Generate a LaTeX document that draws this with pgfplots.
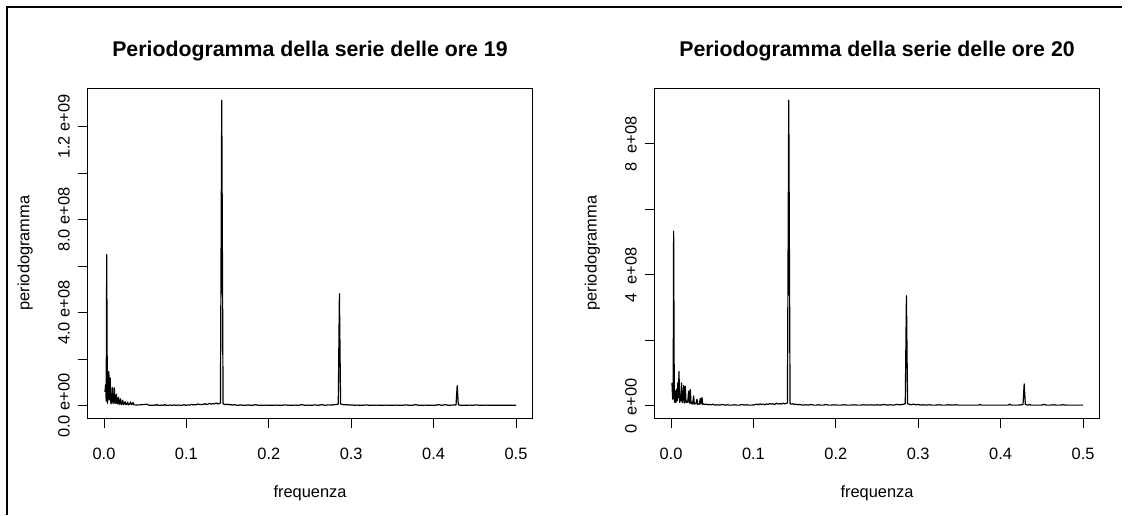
\documentclass[border=0pt]{standalone}
\usepackage{fontspec}
\setmainfont{Liberation Sans}
\usepackage{pgfplots}
\usepackage{pgfplotstable}
\pgfplotsset{compat=1.18}

% periodogram ordinates, in units of 1e8
\pgfplotstableread{
f v
0.0012 0.6
0.0020 0.9
0.0027 0.2
0.0033 6.5
0.0041 0.1
0.0050 0.35
0.0059 1.47
0.0066 0.25
0.0075 1.2
0.0084 0.08
0.0093 0.2
0.0102 0.78
0.0110 0.1
0.0118 0.2
0.0126 0.77
0.0134 0.1
0.0142 0.15
0.0151 0.5
0.0159 0.08
0.0167 0.12
0.0176 0.37
0.0184 0.06
0.0192 0.1
0.0201 0.3
0.0209 0.05
0.0218 0.09
0.0227 0.24
0.0236 0.05
0.0245 0.08
0.0256 0.18
0.0266 0.05
0.0276 0.06
0.0288 0.15
0.0298 0.04
0.0310 0.06
0.0322 0.16
0.0332 0.05
0.0342 0.07
0.0353 0.14
0.0363 0.04
0.0380 0.04
0.0400 0.03
0.0420 0.04
0.0440 0.04
0.0460 0.05
0.0480 0.05
0.0500 0.06
0.0520 0.07
0.0540 0.03
0.0560 0.02
0.0580 0.02
0.0600 0.03
0.0620 0.02
0.0640 0.06
0.0650 0.02
0.0680 0.02
0.0700 0.03
0.0720 0.02
0.0740 0.05
0.0750 0.02
0.0780 0.02
0.0800 0.03
0.0830 0.02
0.0850 0.04
0.0870 0.02
0.0900 0.03
0.0930 0.02
0.0950 0.02
0.0970 0.05
0.0990 0.02
0.1010 0.03
0.1040 0.03
0.1060 0.06
0.1080 0.04
0.1100 0.05
0.1120 0.04
0.1140 0.08
0.1160 0.05
0.1180 0.06
0.1200 0.05
0.1220 0.09
0.1240 0.06
0.1260 0.07
0.1280 0.10
0.1300 0.07
0.1320 0.09
0.1340 0.08
0.1360 0.12
0.1380 0.08
0.1400 0.10
0.1413 0.12
0.1429 13.14
0.1445 0.10
0.1460 0.06
0.1480 0.05
0.1500 0.07
0.1520 0.04
0.1540 0.05
0.1560 0.03
0.1580 0.05
0.1600 0.03
0.1630 0.02
0.1660 0.04
0.1690 0.02
0.1720 0.02
0.1750 0.04
0.1780 0.02
0.1810 0.02
0.1840 0.05
0.1870 0.02
0.1900 0.02
0.1930 0.02
0.1960 0.03
0.2000 0.02
0.2040 0.02
0.2080 0.03
0.2120 0.02
0.2160 0.02
0.2200 0.04
0.2240 0.02
0.2280 0.02
0.2320 0.03
0.2360 0.02
0.2400 0.05
0.2440 0.02
0.2480 0.03
0.2520 0.02
0.2560 0.04
0.2600 0.02
0.2640 0.05
0.2680 0.02
0.2720 0.04
0.2760 0.03
0.2800 0.05
0.2830 0.06
0.2843 0.08
0.2857 4.82
0.2871 0.08
0.2890 0.06
0.2920 0.04
0.2950 0.05
0.2980 0.03
0.3010 0.04
0.3040 0.02
0.3070 0.03
0.3100 0.02
0.3140 0.02
0.3180 0.04
0.3220 0.02
0.3260 0.02
0.3300 0.03
0.3340 0.02
0.3380 0.02
0.3420 0.03
0.3460 0.02
0.3500 0.02
0.3540 0.03
0.3580 0.02
0.3620 0.02
0.3660 0.04
0.3700 0.02
0.3740 0.02
0.3780 0.05
0.3820 0.02
0.3860 0.02
0.3900 0.03
0.3940 0.02
0.3980 0.02
0.4020 0.02
0.4060 0.05
0.4100 0.02
0.4140 0.05
0.4180 0.02
0.4220 0.03
0.4260 0.03
0.4272 0.04
0.4286 0.86
0.4300 0.04
0.4330 0.02
0.4360 0.02
0.4400 0.02
0.4440 0.03
0.4480 0.02
0.4520 0.04
0.4560 0.02
0.4600 0.02
0.4640 0.03
0.4680 0.02
0.4720 0.02
0.4760 0.02
0.4800 0.02
0.4840 0.02
0.4880 0.02
0.4920 0.02
0.4960 0.02
0.5000 0.02
}\oretdiciannove

\pgfplotstableread{
f v
0.0012 0.7
0.0020 0.2
0.0027 0.5
0.0032 5.33
0.0040 0.2
0.0046 0.1
0.0052 0.45
0.0060 0.1
0.0067 0.5
0.0075 0.15
0.0082 0.7
0.0090 0.25
0.0097 1.05
0.0105 0.1
0.0113 0.3
0.0120 0.15
0.0127 0.7
0.0136 0.1
0.0145 0.2
0.0153 0.62
0.0162 0.08
0.0173 0.6
0.0183 0.1
0.0194 0.15
0.0203 0.1
0.0214 0.45
0.0224 0.08
0.0234 0.5
0.0244 0.06
0.0254 0.1
0.0264 0.05
0.0274 0.3
0.0284 0.05
0.0295 0.08
0.0305 0.06
0.0315 0.2
0.0325 0.04
0.0335 0.06
0.0345 0.05
0.0355 0.22
0.0365 0.05
0.0376 0.25
0.0386 0.04
0.0395 0.06
0.0410 0.04
0.0430 0.05
0.0450 0.03
0.0470 0.04
0.0490 0.03
0.0510 0.05
0.0530 0.02
0.0560 0.03
0.0590 0.02
0.0620 0.04
0.0650 0.02
0.0680 0.03
0.0710 0.02
0.0740 0.02
0.0770 0.03
0.0800 0.02
0.0830 0.02
0.0860 0.04
0.0890 0.02
0.0920 0.03
0.0950 0.02
0.0980 0.02
0.1010 0.03
0.1040 0.05
0.1060 0.03
0.1080 0.06
0.1100 0.04
0.1120 0.05
0.1140 0.03
0.1160 0.06
0.1180 0.04
0.1200 0.07
0.1220 0.05
0.1240 0.06
0.1260 0.04
0.1280 0.08
0.1300 0.05
0.1320 0.07
0.1340 0.05
0.1360 0.08
0.1380 0.06
0.1400 0.07
0.1413 0.09
0.1429 9.33
0.1445 0.07
0.1460 0.05
0.1480 0.06
0.1500 0.04
0.1520 0.05
0.1540 0.03
0.1560 0.04
0.1580 0.03
0.1610 0.02
0.1640 0.03
0.1670 0.02
0.1700 0.04
0.1730 0.02
0.1760 0.02
0.1790 0.03
0.1820 0.02
0.1850 0.02
0.1880 0.04
0.1910 0.02
0.1940 0.02
0.1980 0.03
0.2020 0.02
0.2060 0.02
0.2100 0.03
0.2140 0.02
0.2180 0.02
0.2220 0.03
0.2260 0.02
0.2300 0.02
0.2340 0.03
0.2380 0.02
0.2420 0.03
0.2460 0.02
0.2500 0.03
0.2540 0.02
0.2580 0.04
0.2620 0.02
0.2660 0.03
0.2700 0.02
0.2740 0.04
0.2780 0.03
0.2810 0.04
0.2843 0.06
0.2857 3.36
0.2871 0.06
0.2890 0.05
0.2910 0.03
0.2940 0.05
0.2970 0.03
0.3000 0.04
0.3030 0.02
0.3060 0.03
0.3090 0.02
0.3130 0.03
0.3170 0.02
0.3210 0.02
0.3250 0.03
0.3290 0.02
0.3330 0.02
0.3370 0.03
0.3410 0.02
0.3450 0.03
0.3490 0.02
0.3530 0.02
0.3570 0.02
0.3610 0.02
0.3650 0.02
0.3690 0.02
0.3730 0.02
0.3750 0.04
0.3770 0.02
0.3810 0.02
0.3850 0.02
0.3890 0.02
0.3930 0.02
0.3970 0.02
0.4010 0.02
0.4050 0.02
0.4090 0.02
0.4110 0.05
0.4130 0.02
0.4170 0.02
0.4210 0.02
0.4250 0.03
0.4272 0.04
0.4286 0.67
0.4300 0.04
0.4330 0.02
0.4350 0.04
0.4370 0.02
0.4410 0.02
0.4450 0.02
0.4490 0.02
0.4530 0.04
0.4560 0.02
0.4600 0.02
0.4640 0.03
0.4680 0.02
0.4720 0.02
0.4760 0.03
0.4800 0.02
0.4840 0.02
0.4880 0.02
0.4920 0.02
0.4960 0.02
0.5000 0.02
}\oreventi

\newcommand{\lblfont}{\fontsize{16.4pt}{19pt}\selectfont}
\newcommand{\ttlfont}{\fontsize{21.3pt}{25pt}\selectfont\bfseries}

\pgfplotsset{
  pgram/.style={
    scale only axis, width=445pt, height=330pt,
    anchor=south west,
    xmin=-0.02, xmax=0.52,
    axis line style={line width=0.9pt},
    tick style={line width=0.9pt, black},
    major tick length=10pt, tick align=outside,
    xtick pos=left, ytick pos=left,
    xtick={0,0.1,0.2,0.3,0.4,0.5},
    xticklabels={0.0,0.1,0.2,0.3,0.4,0.5},
    xticklabel style={font=\lblfont, anchor=base, inner sep=0pt, yshift=-31pt},
    yticklabel style={font=\lblfont, xshift=-8pt, rotate=90, anchor=base, inner sep=0pt},
    every axis title/.style={at={(0.5,1)}, anchor=base, yshift=31pt, font=\ttlfont},
    every axis x label/.style={at={(0.5,0)}, anchor=base, yshift=-79pt, font=\lblfont},
    every axis y label/.style={at={(0,0.5)}, xshift=-58pt, rotate=90, anchor=base, font=\lblfont},
    xlabel={frequenza}, ylabel={periodogramma},
  },
  sline/.style={black, line width=1.2pt, no markers, line join=round},
}

\begin{document}
\begin{tikzpicture}
\path[use as bounding box] (0,0) rectangle (1131pt,515pt);
% outer frame: top and left edges only
\draw[line width=2pt] (7pt,0pt) -- (7pt,508pt) -- (1122pt,508pt);

\begin{axis}[pgram, at={(87.5pt,97pt)},
  ymin=-0.5256, ymax=13.6656,
  ytick={0,2,4,6,8,10,12},
  yticklabels={0.0 e+00,,4.0 e+08,,8.0 e+08,,1.2 e+09},
  title={Periodogramma della serie delle ore 19}]
\addplot[sline] table[x=f, y=v] {\oretdiciannove};
\end{axis}

\begin{axis}[pgram, at={(654.5pt,97pt)},
  ymin=-0.3732, ymax=9.7032,
  ytick={0,2,4,6,8},
  yticklabels={0\hspace{0.53em}e+00,,4\hspace{0.53em}e+08,,8\hspace{0.53em}e+08},
  title={Periodogramma della serie delle ore 20}]
\addplot[sline] table[x=f, y=v] {\oreventi};
\end{axis}
\end{tikzpicture}
\end{document}
